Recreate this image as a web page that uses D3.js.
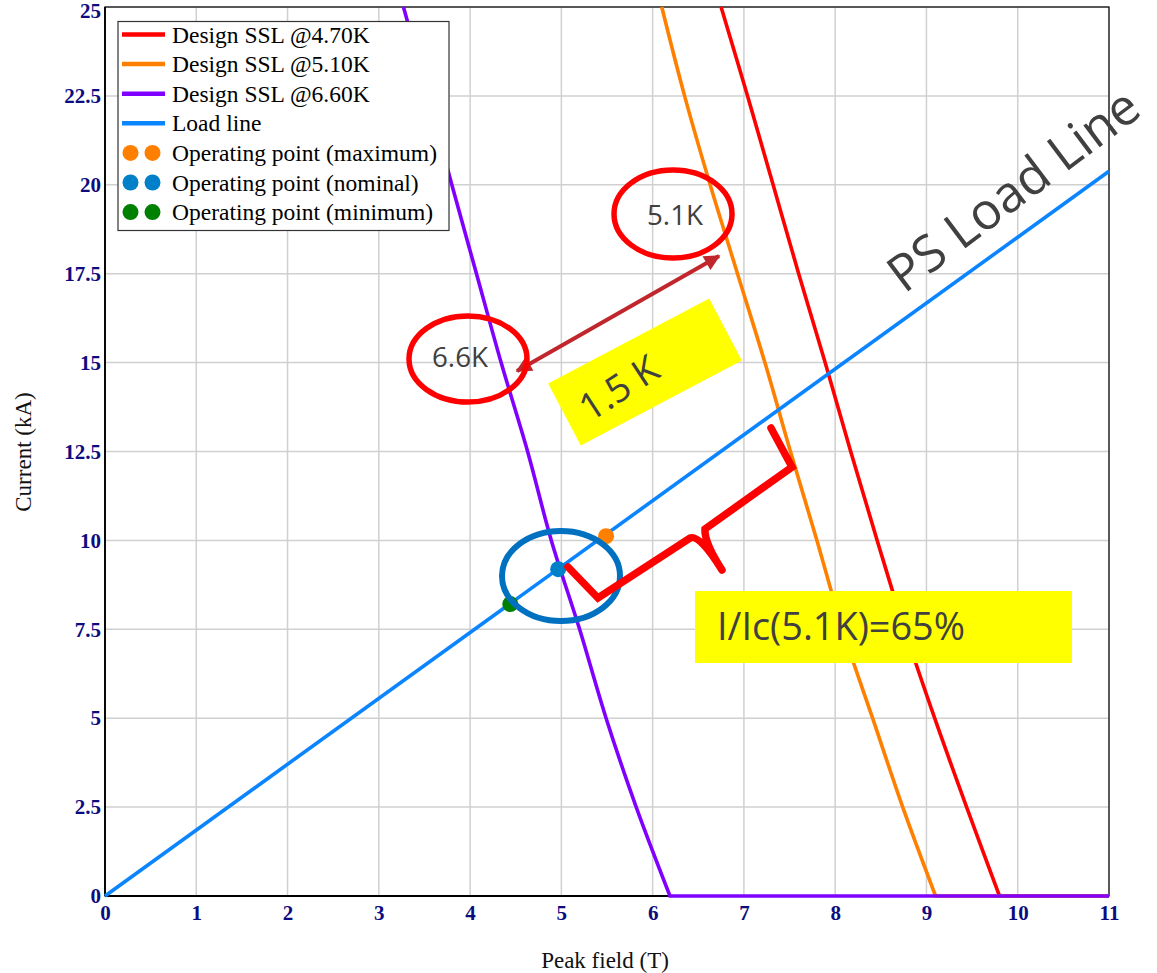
<!DOCTYPE html>
<html><head><meta charset="utf-8">
<script src="https://cdn.jsdelivr.net/npm/d3@7"></script>
<style>body{margin:0;background:#fff}</style>
</head><body>
<svg id="c" width="1157" height="973"></svg>
<script>
// ---------- data ----------
const fieldTicks = [0,1,2,3,4,5,6,7,8,9,10,11];
const currentTicks = [0,2.5,5,7.5,10,12.5,15,17.5,20,22.5,25];
const sslCurrent = [25,22.5,20,17.5,15,12.5,10,7.5,5,2.5,0];
const ssl470Field = [6.75,7.04,7.32,7.60,7.89,8.17,8.46,8.76,9.09,9.44,9.80];
const ssl510Field = [6.10,6.35,6.63,6.93,7.23,7.51,7.80,8.08,8.41,8.74,9.10];
const ssl660Field = [3.27,3.54,3.80,4.07,4.34,4.63,4.89,5.20,5.49,5.82,6.19];
const loadLineField = [0, 11];
const loadLineCurrent = [0, 20.38];
const opField = [5.49, 4.965, 4.44];
const opCurrent = [10.12, 9.19, 8.21];
const legendLabels = ["Design SSL @4.70K","Design SSL @5.10K","Design SSL @6.60K","Load line",
  "Operating point (maximum)","Operating point (nominal)","Operating point (minimum)"];
const xTitle = "Peak field (T)";
const yTitle = "Current (kA)";

// ---------- styles ----------
const C = {red:"#ff0000", orange:"#ff8000", purple:"#8000ff", load:"#0a84ff",
           opMax:"#ff8000", opNom:"#0080c8", opMin:"#008000"};
const serif = "'Liberation Serif','Times New Roman',serif";
const sans = "'Open Sans','Noto Sans',sans-serif";
const svg = d3.select("#c");
const x = d3.scaleLinear().domain([0,11]).range([105,1109]);
const y = d3.scaleLinear().domain([0,25]).range([896,7]);

// grid
const grid = svg.append("g").attr("stroke","#d0d0d0").attr("stroke-width",1.5);
grid.selectAll(".gx").data(fieldTicks).join("line")
  .attr("x1",d=>x(d)).attr("x2",d=>x(d)).attr("y1",y(0)).attr("y2",y(25));
grid.selectAll(".gy").data(currentTicks).join("line")
  .attr("y1",d=>y(d)).attr("y2",d=>y(d)).attr("x1",x(0)).attr("x2",x(11));

// frame
svg.append("rect").attr("x",x(0)).attr("y",y(25)).attr("width",x(11)-x(0)).attr("height",y(0)-y(25))
  .attr("fill","none").attr("stroke","#000").attr("stroke-width",1.2);
svg.append("line").attr("x1",x(0)).attr("x2",x(0)).attr("y1",y(0)).attr("y2",y(25)).attr("stroke","#000").attr("stroke-width",1.8);
svg.append("line").attr("x1",x(0)).attr("x2",x(11)).attr("y1",y(0)).attr("y2",y(0)).attr("stroke","#000").attr("stroke-width",1.8);

// axes
const ax = svg.append("g").attr("transform",`translate(0,${y(0)})`)
  .call(d3.axisBottom(x).tickValues(fieldTicks).tickSize(0).tickPadding(9).tickFormat(d3.format("d")));
const ay = svg.append("g").attr("transform",`translate(${x(0)},0)`)
  .call(d3.axisLeft(y).tickValues(currentTicks).tickSize(0).tickPadding(4).tickFormat(d=>String(d)));
[ax,ay].forEach(a=>{a.select(".domain").remove();
  a.selectAll("text").attr("font-family",serif).attr("font-weight","bold").attr("font-size",21).attr("fill","#0c0c80");});
ay.selectAll(".tick").filter(d=>d===25).select("text").attr("dy","0.5em");

svg.append("text").attr("x",605).attr("y",968).attr("text-anchor","middle")
  .attr("font-family",serif).attr("font-size",23).attr("fill","#111").text(xTitle);
svg.append("text").attr("transform","translate(31,452) rotate(-90)").attr("text-anchor","middle")
  .attr("font-family",serif).attr("font-size",23).attr("fill","#111").text(yTitle);

// curves
const lineGen = d3.line().x(d=>x(d[0])).y(d=>y(d[1])).curve(d3.curveCatmullRom.alpha(0.5));
function sslPath(fields){
  const pts = fields.map((f,i)=>[f, sslCurrent[i]]);
  return lineGen(pts) + `L${x(11)},${y(0)}`;
}
[[ssl470Field,C.red],[ssl510Field,C.orange],[ssl660Field,C.purple]].forEach(([f,c])=>{
  svg.append("path").attr("d",sslPath(f)).attr("fill","none").attr("stroke",c).attr("stroke-width",3.6);
});
svg.append("path").attr("d",d3.line().x(d=>x(d[0])).y(d=>y(d[1]))(loadLineField.map((f,i)=>[f,loadLineCurrent[i]])))
  .attr("fill","none").attr("stroke",C.load).attr("stroke-width",3.6);
const opColors = [C.opMax,C.opNom,C.opMin];
svg.selectAll(".op").data(opField).join("circle")
  .attr("cx",d=>x(d)).attr("cy",(d,i)=>y(opCurrent[i])).attr("r",8).attr("fill",(d,i)=>opColors[i]);

// legend
const lg = svg.append("g");
lg.append("rect").attr("x",118).attr("y",21.5).attr("width",331).attr("height",209)
  .attr("fill","#fff").attr("stroke","#333").attr("stroke-width",1.2);
const legColors = [C.red,C.orange,C.purple,C.load,C.opMax,C.opNom,C.opMin];
legendLabels.forEach((t,i)=>{
  const cy = 34.5 + i*29.6;
  if(i<4){
    lg.append("line").attr("x1",122).attr("x2",165).attr("y1",cy).attr("y2",cy)
      .attr("stroke",legColors[i]).attr("stroke-width",4.5);
  } else {
    [130.5,152.5].forEach(cx=>lg.append("circle").attr("cx",cx).attr("cy",cy).attr("r",8).attr("fill",legColors[i]));
  }
  lg.append("text").attr("x",172).attr("y",cy+8).attr("font-family",serif).attr("font-size",23.5)
    .attr("fill","#000").text(t);
});

// ---------- annotations ----------
function fit(sel,target){const w=sel.node().getComputedTextLength();sel.attr("font-size",parseFloat(sel.attr("font-size"))*target/w);return sel;}
const txtCol = "#404040";
const an = svg.append("g");
// yellow box 1.5K
an.append("rect").attr("transform","translate(645,372) rotate(-27.8)").attr("x",-91).attr("y",-35)
  .attr("width",182).attr("height",70).attr("fill","#ffff00");
fit(an.append("text").attr("transform","translate(626,399) rotate(-33)").attr("text-anchor","middle")
  .attr("font-family",sans).attr("font-size",34).attr("fill",txtCol).text("1.5 K"),86);
// arrow
const defs = svg.append("defs");
defs.append("marker").attr("id","ah").attr("viewBox","0 0 10 10").attr("refX",9).attr("refY",5)
  .attr("markerWidth",4.5).attr("markerHeight",4).attr("orient","auto-start-reverse")
  .attr("markerUnits","strokeWidth")
  .append("path").attr("d","M0,0L10,5L0,10z").attr("fill","#c0262c");
an.append("line").attr("x1",517).attr("y1",371).attr("x2",719).attr("y2",256)
  .attr("stroke","#c0262c").attr("stroke-width",4).attr("marker-start","url(#ah)").attr("marker-end","url(#ah)");
// circles
an.append("ellipse").attr("cx",673).attr("cy",214).attr("rx",59).attr("ry",44)
  .attr("fill","none").attr("stroke","#ff0000").attr("stroke-width",5.5);
an.append("ellipse").attr("cx",468).attr("cy",359).attr("rx",59).attr("ry",43)
  .attr("fill","none").attr("stroke","#ff0000").attr("stroke-width",5.5);
fit(an.append("text").attr("x",675).attr("y",225).attr("text-anchor","middle").attr("font-family",sans)
  .attr("font-size",28).attr("fill",txtCol).text("5.1K"),56);
fit(an.append("text").attr("x",460).attr("y",367).attr("text-anchor","middle").attr("font-family",sans)
  .attr("font-size",28).attr("fill",txtCol).text("6.6K"),56);
an.append("ellipse").attr("cx",561).attr("cy",576).attr("rx",59).attr("ry",45)
  .attr("fill","none").attr("stroke","#0070c0").attr("stroke-width",6);
// bracket
an.append("path").attr("d","M568,567 L598,598 L690,538 Q700,534 722,570 M722,570 Q704,542 705,529 L792,467 L771,428")
  .attr("fill","none").attr("stroke","#ff0000").attr("stroke-width",7.5).attr("stroke-linecap","round").attr("stroke-linejoin","miter");
// I/Ic box
an.append("rect").attr("x",695).attr("y",591).attr("width",377).attr("height",72).attr("fill","#ffff00");
fit(an.append("text").attr("x",717).attr("y",640).attr("font-family",sans).attr("font-size",32)
  .attr("fill",txtCol).text("I/Ic(5.1K)=65%"),248);
// PS Load Line
fit(an.append("text").attr("transform","translate(1024,204) rotate(-37)").attr("text-anchor","middle")
  .attr("font-family",sans).attr("font-size",48).attr("fill",txtCol).text("PS Load Line"),300);
</script>
</body></html>
